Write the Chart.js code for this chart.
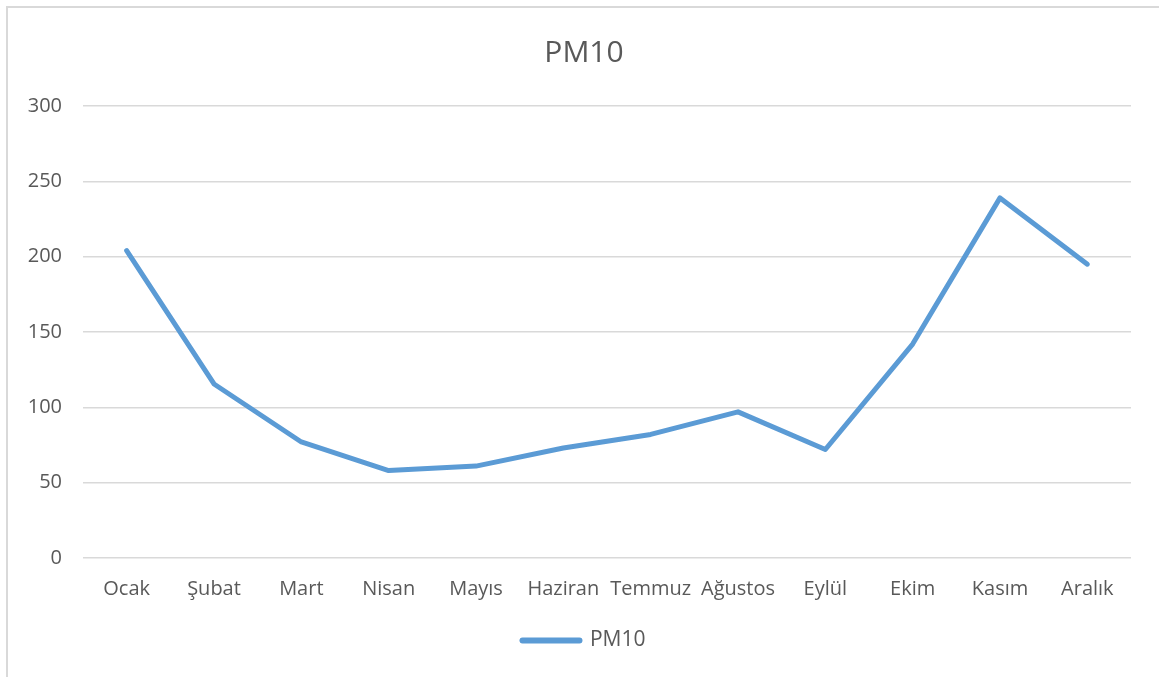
<!DOCTYPE html>
<html lang="tr">
<head>
<meta charset="utf-8">
<title>PM10</title>
<script src="https://cdn.jsdelivr.net/npm/chart.js@4/dist/chart.umd.min.js"></script>
<style>
  html, body { margin: 0; padding: 0; background: #ffffff; overflow: hidden; }
  #wrap { position: relative; width: 1159px; height: 677px; }
  #frame {
    position: absolute; left: 6px; top: 6px; right: -10px; bottom: -10px;
    border-top: 2px solid #d9d9d9; border-left: 2px solid #d9d9d9;
  }
  canvas { position: absolute; left: 0; top: 0; }
</style>
</head>
<body>
<div id="wrap">
  <div id="frame"></div>
  <canvas id="chart" width="1159" height="677"></canvas>
</div>
<script>
// Monthly PM10 averages
const months = ['Ocak', 'Şubat', 'Mart', 'Nisan', 'Mayıs', 'Haziran', 'Temmuz', 'Ağustos', 'Eylül', 'Ekim', 'Kasım', 'Aralık'];
const pm10 = [204, 115.5, 77, 58, 61, 73, 82, 97, 72, 142, 239, 195];
const seriesName = 'PM10';
const yTicks = [0, 50, 100, 150, 200, 250, 300];

const textColor = '#595959';
const lineColor = '#5b9bd5';
const gridColor = '#d9d9d9';
const family = "'Open Sans', 'Liberation Sans', sans-serif";

new Chart(document.getElementById('chart'), {
  type: 'line',
  data: {
    labels: months,
    datasets: [{
      label: seriesName,
      data: pm10,
      borderColor: lineColor,
      backgroundColor: lineColor,
      borderWidth: 5,
      borderCapStyle: 'round',
      borderJoinStyle: 'round',
      pointRadius: 0,
      pointHoverRadius: 0,
      tension: 0,
      fill: false,
      yAxisID: 'y'
    }]
  },
  options: {
    responsive: false,
    animation: false,
    events: [],
    layout: { padding: { left: 21, right: 12, top: 0, bottom: 16 } },
    plugins: {
      title: {
        display: true,
        text: seriesName,
        color: textColor,
        font: { family, size: 30, weight: 'normal' },
        padding: { top: 35, bottom: 35 }
      },
      legend: {
        position: 'bottom',
        labels: {
          color: textColor,
          font: { family, size: 21 },
          usePointStyle: true,
          pointStyle: 'line',
          pointStyleWidth: 57,
          padding: 10,
          generateLabels: (chart) => chart.data.datasets.map((ds, i) => ({
            text: ds.label,
            fillStyle: ds.borderColor,
            strokeStyle: ds.borderColor,
            lineWidth: 6,
            lineCap: 'round',
            pointStyle: 'line',
            fontColor: textColor,
            datasetIndex: i
          }))
        }
      },
      tooltip: { enabled: false }
    },
    scales: {
      x: {
        offset: true,
        grid: { display: false, drawTicks: false },
        border: { display: false },
        ticks: {
          color: textColor,
          font: { family, size: 20 },
          padding: 19,
          maxRotation: 0,
          autoSkip: false
        }
      },
      y: {
        position: 'left',
        min: yTicks[0],
        max: yTicks[yTicks.length - 1],
        afterBuildTicks: (scale) => { scale.ticks = yTicks.map(v => ({ value: v })); },
        afterFit: (scale) => { scale.width = 62; },
        grid: { color: gridColor, lineWidth: 1.5, drawTicks: false },
        border: { display: false },
        ticks: {
          color: textColor,
          font: { family, size: 20 },
          padding: 21
        }
      },
      // blank right-hand gutter that balances the plot inside the frame
      gutter: {
        type: 'linear',
        position: 'right',
        min: 0,
        max: 1,
        afterFit: (scale) => { scale.width = 16; },
        grid: { display: false, drawTicks: false },
        border: { display: false },
        ticks: { display: false }
      }
    }
  }
});
</script>
</body>
</html>
